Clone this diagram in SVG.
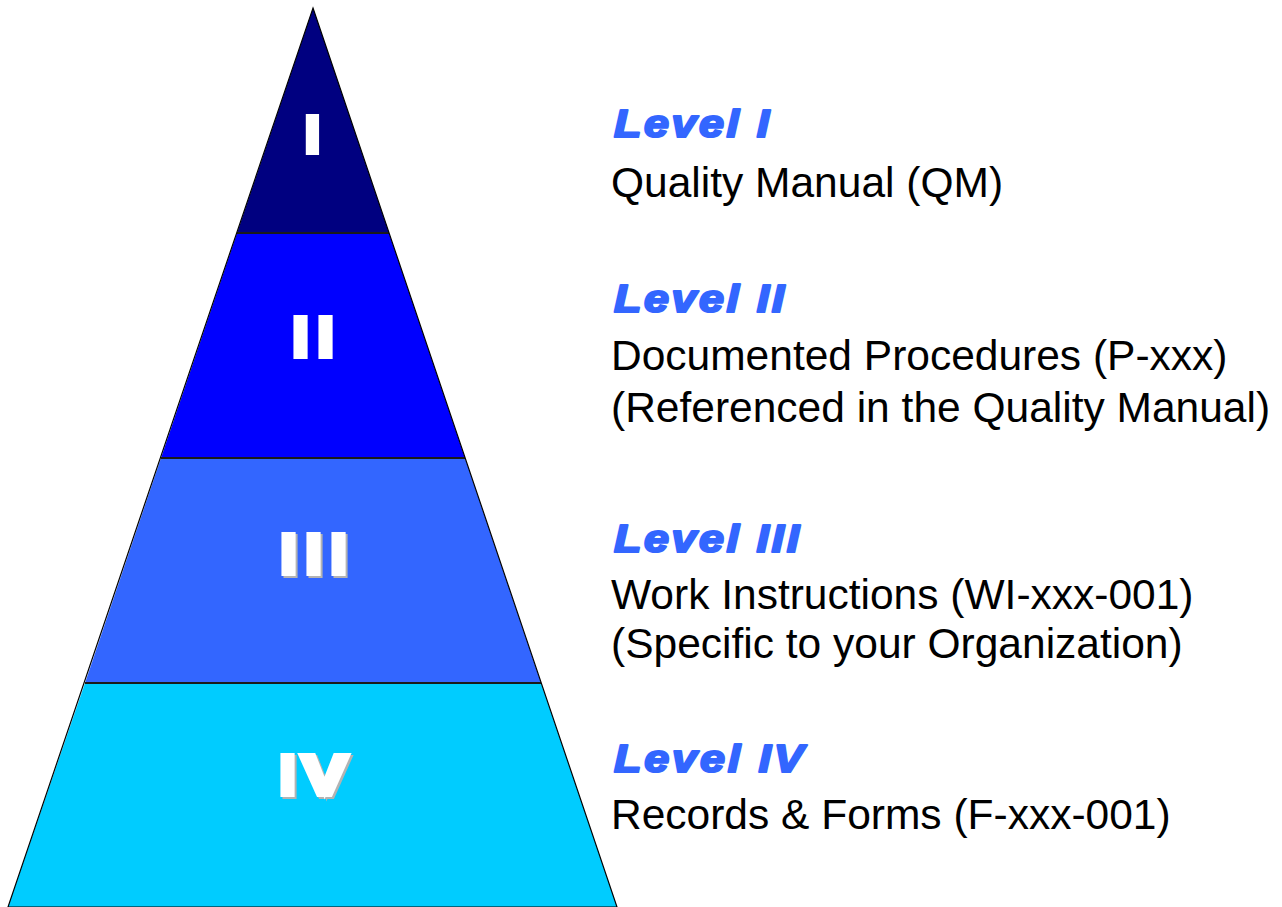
<svg xmlns="http://www.w3.org/2000/svg" xmlns:xlink="http://www.w3.org/1999/xlink" width="1282" height="907" viewBox="0 0 1282 907">
<style>
.band{stroke:none}
.sep{stroke:#1a1a1a;stroke-width:2}
.outline{fill:none;stroke:#000;stroke-width:1.2}
.num{font-family:"Liberation Sans",Arial,sans-serif;font-weight:bold;font-size:56px;fill:#fff;stroke:#fff;stroke-width:6;stroke-linejoin:miter}
.shadow{fill:#b3b3b3;stroke:#b3b3b3}
.lvl{font-family:"Liberation Sans",Arial,sans-serif;font-weight:bold;font-style:italic;font-size:39px;fill:#3366ff;stroke:#3366ff;stroke-width:2.2;stroke-linejoin:round}
.desc{font-family:"Liberation Sans",Arial,sans-serif;font-size:42.5px;fill:#000}
</style>
<rect width="1282" height="907" fill="#fff"/>
<g id="pyramid">
  <g id="level1">
    <polygon class="band" fill="#000080" points="313,8 389,233 237,233"/>
    <text class="num" style="font-size:50px" x="305.5" y="152">I</text>
  </g>
  <g id="level2">
    <polygon class="band" fill="#0000ff" points="237,233 389,233 465,458 161,458"/>
    <text class="num" x="292.7 317.7" y="356">II</text>
  </g>
  <g id="level3">
    <polygon class="band" fill="#3366ff" points="161,458 465,458 541,683 85,683"/>
    <text class="num shadow" x="282.7 307.7 332.7" y="575">III</text>
    <text class="num" x="280.7 305.7 330.7" y="573">III</text>
  </g>
  <g id="level4">
    <polygon class="band" fill="#00ccff" points="85,683 541,683 617,907 8,907"/>
    <g transform="translate(2,2)">
      <text class="num shadow" x="279.7" y="794">I</text>
      <text class="num shadow" transform="translate(324.5,794) scale(1.2,1)" x="0" y="0" text-anchor="middle">V</text>
    </g>
    <text class="num" x="279.7" y="794">I</text>
    <text class="num" transform="translate(324.5,794) scale(1.2,1)" x="0" y="0" text-anchor="middle">V</text>
  </g>
  <g id="separators">
    <line class="sep" x1="237" y1="233" x2="389" y2="233"/>
    <line class="sep" x1="161" y1="458" x2="465" y2="458"/>
    <line class="sep" x1="85" y1="683" x2="541" y2="683"/>
  </g>
  <polygon class="outline" points="313,8 617,907 8,907"/>
</g>
<g id="label1">
  <text class="lvl" transform="translate(614,137) scale(1.15,1)" x="0" y="0" textLength="135" lengthAdjust="spacing">Level I</text>
  <text class="desc" x="611" y="197">Quality Manual (QM)</text>
</g>
<g id="label2">
  <text class="lvl" transform="translate(614,312) scale(1.15,1)" x="0" y="0" textLength="148" lengthAdjust="spacing">Level II</text>
  <text class="desc" x="611" y="370">Documented Procedures (P-xxx)</text>
  <text class="desc" x="611" y="422">(Referenced in the Quality Manual)</text>
</g>
<g id="label3">
  <text class="lvl" transform="translate(614,552) scale(1.15,1)" x="0" y="0" textLength="161" lengthAdjust="spacing">Level III</text>
  <text class="desc" x="611" y="609">Work Instructions (WI-xxx-001)</text>
  <text class="desc" x="611" y="658">(Specific to your Organization)</text>
</g>
<g id="label4">
  <text class="lvl" transform="translate(614,772) scale(1.15,1)" x="0" y="0" textLength="165" lengthAdjust="spacing">Level IV</text>
  <text class="desc" x="611" y="829">Records &amp; Forms (F-xxx-001)</text>
</g>
</svg>
